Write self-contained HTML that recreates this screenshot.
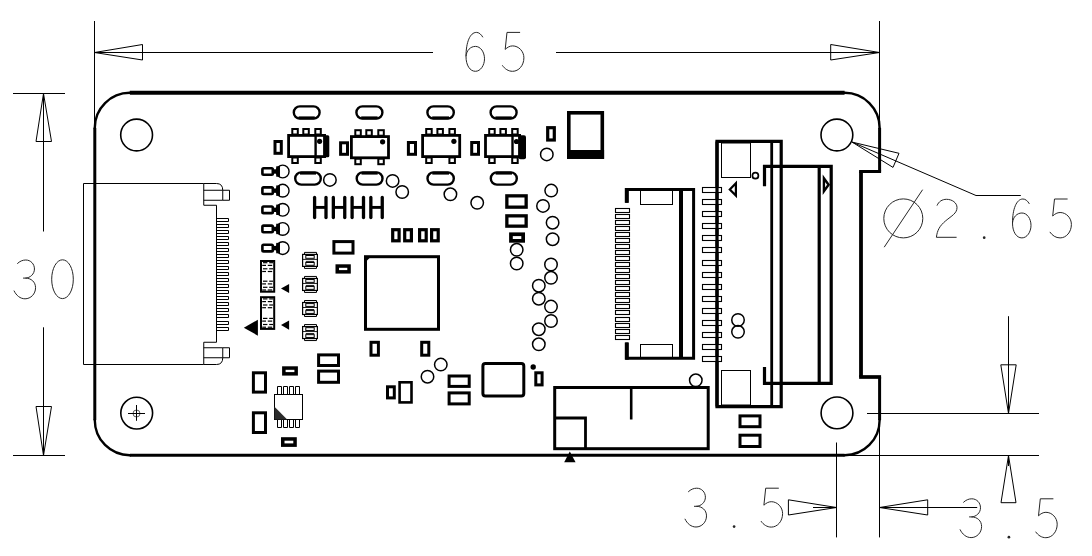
<!DOCTYPE html>
<html><head><meta charset="utf-8"><title>PCB outline drawing</title>
<style>
html,body{margin:0;padding:0;background:#fff;}
body{width:1092px;height:556px;overflow:hidden;font-family:"Liberation Sans",sans-serif;}
svg{display:block;}
</style></head><body>
<svg width="1092" height="556" viewBox="0 0 1092 556">
<rect width="1092" height="556" fill="#fff"/>
<path d="M129.8,92.8 L844.6,92.8" fill="none" stroke="#000" stroke-width="4" />
<path d="M129.8,455.2 L844.6,455.2" fill="none" stroke="#000" stroke-width="3" />
<path d="M94.8,127.8 L94.8,420.2" fill="none" stroke="#000" stroke-width="3" />
<path d="M879.6,127.8 L879.6,171.5" fill="none" stroke="#000" stroke-width="3" />
<path d="M881.1,171.5 L859.1,171.5" fill="none" stroke="#000" stroke-width="3" />
<path d="M861.0,171.5 L861.0,377.0" fill="none" stroke="#000" stroke-width="3.8" />
<path d="M859.1,377.0 L881.1,377.0" fill="none" stroke="#000" stroke-width="3.7" />
<path d="M879.6,377.0 L879.6,420.2" fill="none" stroke="#000" stroke-width="3" />
<path d="M94.8,128.8 L94.8,127.8 A35,35 0 0 1 129.8,92.8 L130.8,92.8" fill="none" stroke="#000" stroke-width="2.4" />
<path d="M843.6,92.8 L844.6,92.8 A35,35 0 0 1 879.6,127.8 L879.6,128.8" fill="none" stroke="#000" stroke-width="2.4" />
<path d="M94.8,419.2 L94.8,420.2 A35,35 0 0 0 129.8,455.2 L130.8,455.2" fill="none" stroke="#000" stroke-width="2.4" />
<path d="M843.6,455.2 L844.6,455.2 A35,35 0 0 0 879.6,420.2 L879.6,419.2" fill="none" stroke="#000" stroke-width="2.4" />
<circle cx="136.60" cy="135.00" r="15.90" fill="none" stroke="#000" stroke-width="1.6"/>
<circle cx="836.90" cy="135.00" r="15.90" fill="none" stroke="#000" stroke-width="1.6"/>
<circle cx="837.00" cy="412.90" r="15.90" fill="none" stroke="#000" stroke-width="1.6"/>
<circle cx="136.70" cy="413.10" r="15.90" fill="none" stroke="#000" stroke-width="1.6"/>
<circle cx="136.5" cy="413.5" r="3.5" fill="none" stroke="#333" stroke-width="0.8"/>
<line x1="128.00" y1="413.50" x2="145.00" y2="413.50" stroke="#000" stroke-width="1" stroke-linecap="butt"/>
<line x1="136.50" y1="405.00" x2="136.50" y2="420.80" stroke="#000" stroke-width="1" stroke-linecap="butt"/>
<line x1="94.50" y1="21.00" x2="94.50" y2="127.80" stroke="#000" stroke-width="1" stroke-linecap="butt"/>
<line x1="879.50" y1="21.00" x2="879.50" y2="127.80" stroke="#000" stroke-width="1" stroke-linecap="butt"/>
<line x1="94.50" y1="52.50" x2="433.00" y2="52.50" stroke="#000" stroke-width="1" stroke-linecap="butt"/>
<line x1="556.00" y1="52.50" x2="879.50" y2="52.50" stroke="#000" stroke-width="1" stroke-linecap="butt"/>
<path d="M94.5,52.5 L142.5,44.5 L142.5,60 Z" fill="none" stroke="#000" stroke-width="1" />
<path d="M879.5,52.5 L830.7,44.5 L830.7,60 Z" fill="none" stroke="#000" stroke-width="1" />
<line x1="13.00" y1="93.50" x2="65.00" y2="93.50" stroke="#000" stroke-width="1" stroke-linecap="butt"/>
<line x1="13.00" y1="455.50" x2="65.00" y2="455.50" stroke="#000" stroke-width="1" stroke-linecap="butt"/>
<line x1="43.50" y1="93.50" x2="43.50" y2="231.50" stroke="#000" stroke-width="1" stroke-linecap="butt"/>
<line x1="43.50" y1="327.30" x2="43.50" y2="455.50" stroke="#000" stroke-width="1" stroke-linecap="butt"/>
<path d="M43.5,93.5 L36,141.5 L51.5,141.5 Z" fill="none" stroke="#000" stroke-width="1" />
<path d="M43.5,455.5 L36,406.5 L51.5,406.5 Z" fill="none" stroke="#000" stroke-width="1" />
<line x1="867.00" y1="413.50" x2="1039.00" y2="413.50" stroke="#000" stroke-width="1" stroke-linecap="butt"/>
<line x1="844.60" y1="455.50" x2="1039.00" y2="455.50" stroke="#000" stroke-width="1" stroke-linecap="butt"/>
<line x1="1008.50" y1="316.20" x2="1008.50" y2="413.50" stroke="#000" stroke-width="1" stroke-linecap="butt"/>
<path d="M1008.5,413.5 L1000.8,364.8 L1016.2,364.8 Z" fill="none" stroke="#000" stroke-width="1" />
<line x1="1008.50" y1="455.50" x2="1008.50" y2="466.00" stroke="#000" stroke-width="1" stroke-linecap="butt"/>
<path d="M1008.5,455.5 L1001,502.7 L1016,502.7 Z" fill="none" stroke="#000" stroke-width="1" />
<line x1="836.50" y1="442.50" x2="836.50" y2="537.40" stroke="#000" stroke-width="1" stroke-linecap="butt"/>
<line x1="879.50" y1="420.20" x2="879.50" y2="537.40" stroke="#000" stroke-width="1" stroke-linecap="butt"/>
<line x1="813.00" y1="507.50" x2="836.50" y2="507.50" stroke="#000" stroke-width="1" stroke-linecap="butt"/>
<path d="M836.5,507.5 L788.4,499.8 L788.4,515 Z" fill="none" stroke="#000" stroke-width="1" />
<line x1="879.50" y1="507.50" x2="977.20" y2="507.50" stroke="#000" stroke-width="1" stroke-linecap="butt"/>
<path d="M879.5,507.5 L927.7,499.8 L927.7,515 Z" fill="none" stroke="#000" stroke-width="1" />
<path d="M852.1,142.1 L976,195.5 L1020.8,195.5" fill="none" stroke="#000" stroke-width="1" />
<path d="M852.1,142.1 L899,153.3 L893,167.4 Z" fill="none" stroke="#000" stroke-width="1" />
<path transform="translate(466.00,32.40)" d="M16.9,4.9 C15,1.8 13,0 10.4,0 C4,0 0,10 0,24 C0,33 4,38.9 9.4,38.9 C14.5,38.9 18.5,33 18.5,26.4 C18.5,19.5 14.5,14 9.4,14 C4.5,14 0.5,18 0,24" fill="none" stroke="#262626" stroke-width="1.0"/>
<path transform="translate(502.30,32.40)" d="M17.8,0 L4.7,0 L2.9,17 C5,15 7.5,13.5 10.3,13.5 C16.5,13.5 21.6,19 21.6,25.4 C21.6,33 16.5,38.9 10.3,38.9 C6,38.9 2.5,36.5 0,32.9" fill="none" stroke="#262626" stroke-width="1.0"/>
<path transform="translate(13.75,260.00)" d="M3.5,3.7 C6,1.2 9,0 12,0 C17,0 20.7,4 20.7,9 C20.7,14 16.5,18 11.5,18.1 L9.3,18.1 M11.5,18.1 C17.5,18.1 21.8,22 21.8,27.7 C21.8,34 17,38.8 11.3,38.8 C6.5,38.8 2.5,35.5 0.2,30.6" fill="none" stroke="#262626" stroke-width="1.0"/>
<path transform="translate(51.70,259.80)" d="M10.8,0 C4.8,0 0,8.7 0,19.4 C0,30.1 4.8,38.8 10.8,38.8 C16.8,38.8 21.6,30.1 21.6,19.4 C21.6,8.7 16.8,0 10.8,0 Z" fill="none" stroke="#262626" stroke-width="1.0"/>
<circle cx="903.3" cy="218.4" r="19.5" fill="none" stroke="#262626" stroke-width="1.0"/>
<line x1="884.20" y1="247.20" x2="922.60" y2="189.70" stroke="#262626" stroke-width="1.0" stroke-linecap="butt"/>
<path transform="translate(935.70,199.30)" d="M1.3,6.3 C3,2.2 6.5,0 10.8,0 C16.5,0 21.3,3.5 21.3,8.3 C21.3,14 16,16.5 10,21.5 C4,26.5 1.5,31 0.7,38 L20.9,38" fill="none" stroke="#262626" stroke-width="1.0"/>
<circle cx="984.20" cy="237.70" r="1.35" fill="#262626"/>
<path transform="translate(1012.50,199.00)" d="M16.9,4.9 C15,1.8 13,0 10.4,0 C4,0 0,10 0,24 C0,33 4,38.9 9.4,38.9 C14.5,38.9 18.5,33 18.5,26.4 C18.5,19.5 14.5,14 9.4,14 C4.5,14 0.5,18 0,24" fill="none" stroke="#262626" stroke-width="1.0"/>
<path transform="translate(1049.80,199.00)" d="M17.8,0 L4.7,0 L2.9,17 C5,15 7.5,13.5 10.3,13.5 C16.5,13.5 21.6,19 21.6,25.4 C21.6,33 16.5,38.9 10.3,38.9 C6,38.9 2.5,36.5 0,32.9" fill="none" stroke="#262626" stroke-width="1.0"/>
<path transform="translate(684.70,488.20)" d="M3.5,3.7 C6,1.2 9,0 12,0 C17,0 20.7,4 20.7,9 C20.7,14 16.5,18 11.5,18.1 L9.3,18.1 M11.5,18.1 C17.5,18.1 21.8,22 21.8,27.7 C21.8,34 17,38.8 11.3,38.8 C6.5,38.8 2.5,35.5 0.2,30.6" fill="none" stroke="#262626" stroke-width="1.0"/>
<circle cx="734.10" cy="526.60" r="1.35" fill="#262626"/>
<path transform="translate(761.00,488.20)" d="M17.8,0 L4.7,0 L2.9,17 C5,15 7.5,13.5 10.3,13.5 C16.5,13.5 21.6,19 21.6,25.4 C21.6,33 16.5,38.9 10.3,38.9 C6,38.9 2.5,36.5 0,32.9" fill="none" stroke="#262626" stroke-width="1.0"/>
<path transform="translate(959.80,498.80)" d="M3.5,3.7 C6,1.2 9,0 12,0 C17,0 20.7,4 20.7,9 C20.7,14 16.5,18 11.5,18.1 L9.3,18.1 M11.5,18.1 C17.5,18.1 21.8,22 21.8,27.7 C21.8,34 17,38.8 11.3,38.8 C6.5,38.8 2.5,35.5 0.2,30.6" fill="none" stroke="#262626" stroke-width="1.0"/>
<circle cx="1008.90" cy="537.20" r="1.35" fill="#262626"/>
<path transform="translate(1035.60,498.80)" d="M17.8,0 L4.7,0 L2.9,17 C5,15 7.5,13.5 10.3,13.5 C16.5,13.5 21.6,19 21.6,25.4 C21.6,33 16.5,38.9 10.3,38.9 C6,38.9 2.5,36.5 0,32.9" fill="none" stroke="#262626" stroke-width="1.0"/>
<path d="M203.75,183.5 L83.5,183.5 L83.5,364.5 L203.75,364.5" fill="none" stroke="#000" stroke-width="1" />
<path d="M203.75,183.5 L216.5,183.5 Q222.75,183.5 222.75,190.25" fill="none" stroke="#000" stroke-width="1" />
<path d="M203.75,183.5 L203.75,205.25 L216.5,205.25 L216.5,342.25 L203.75,342.25 L203.75,364.5" fill="none" stroke="#000" stroke-width="1" />
<path d="M203.75,190.25 L222.75,190.25 L222.75,200.25 L203.75,200.25" fill="none" stroke="#000" stroke-width="1" />
<path d="M222.75,190.25 L229.5,190.25 L229.5,200.25 L222.75,200.25" fill="none" stroke="#000" stroke-width="1" />
<path d="M203.75,364.5 L216.5,364.5 Q222.75,364.5 222.75,357.75" fill="none" stroke="#000" stroke-width="1" />
<path d="M203.75,347.75 L222.75,347.75 L222.75,357.75 L203.75,357.75" fill="none" stroke="#000" stroke-width="1" />
<path d="M222.75,347.75 L229.5,347.75 L229.5,357.75 L222.75,357.75" fill="none" stroke="#000" stroke-width="1" />
<path d="M216.5,218.50 L228.5,218.50 L228.5,221.50 L216.5,221.50" fill="none" stroke="#000" stroke-width="1" />
<path d="M216.5,224.50 L228.5,224.50 L228.5,227.50 L216.5,227.50" fill="none" stroke="#000" stroke-width="1" />
<path d="M216.5,230.50 L228.5,230.50 L228.5,233.50 L216.5,233.50" fill="none" stroke="#000" stroke-width="1" />
<path d="M216.5,236.50 L228.5,236.50 L228.5,239.50 L216.5,239.50" fill="none" stroke="#000" stroke-width="1" />
<path d="M216.5,242.50 L228.5,242.50 L228.5,245.50 L216.5,245.50" fill="none" stroke="#000" stroke-width="1" />
<path d="M216.5,248.50 L228.5,248.50 L228.5,251.50 L216.5,251.50" fill="none" stroke="#000" stroke-width="1" />
<path d="M216.5,254.50 L228.5,254.50 L228.5,257.50 L216.5,257.50" fill="none" stroke="#000" stroke-width="1" />
<path d="M216.5,260.50 L228.5,260.50 L228.5,263.50 L216.5,263.50" fill="none" stroke="#000" stroke-width="1" />
<path d="M216.5,266.50 L228.5,266.50 L228.5,269.50 L216.5,269.50" fill="none" stroke="#000" stroke-width="1" />
<path d="M216.5,272.50 L228.5,272.50 L228.5,275.50 L216.5,275.50" fill="none" stroke="#000" stroke-width="1" />
<path d="M216.5,278.50 L228.5,278.50 L228.5,281.50 L216.5,281.50" fill="none" stroke="#000" stroke-width="1" />
<path d="M216.5,284.50 L228.5,284.50 L228.5,287.50 L216.5,287.50" fill="none" stroke="#000" stroke-width="1" />
<path d="M216.5,290.50 L228.5,290.50 L228.5,293.50 L216.5,293.50" fill="none" stroke="#000" stroke-width="1" />
<path d="M216.5,296.50 L228.5,296.50 L228.5,299.50 L216.5,299.50" fill="none" stroke="#000" stroke-width="1" />
<path d="M216.5,302.50 L228.5,302.50 L228.5,305.50 L216.5,305.50" fill="none" stroke="#000" stroke-width="1" />
<path d="M216.5,308.50 L228.5,308.50 L228.5,311.50 L216.5,311.50" fill="none" stroke="#000" stroke-width="1" />
<path d="M216.5,314.50 L228.5,314.50 L228.5,317.50 L216.5,317.50" fill="none" stroke="#000" stroke-width="1" />
<path d="M216.5,321.50 L228.5,321.50 L228.5,324.50 L216.5,324.50" fill="none" stroke="#000" stroke-width="1" />
<path d="M216.5,327.50 L228.5,327.50 L228.5,330.50 L216.5,330.50" fill="none" stroke="#000" stroke-width="1" />
<rect x="293.80" y="106.40" width="25.80" height="12.20" rx="6.10" fill="none" stroke="#000" stroke-width="2.4"/>
<line x1="298.60" y1="117.80" x2="314.80" y2="117.80" stroke="#000" stroke-width="2.8" stroke-linecap="butt"/>
<rect x="356.40" y="106.40" width="26.00" height="12.20" rx="6.10" fill="none" stroke="#000" stroke-width="2.4"/>
<line x1="361.20" y1="117.80" x2="377.60" y2="117.80" stroke="#000" stroke-width="2.8" stroke-linecap="butt"/>
<rect x="427.40" y="106.40" width="26.40" height="12.20" rx="6.10" fill="none" stroke="#000" stroke-width="2.4"/>
<line x1="432.20" y1="117.80" x2="449.00" y2="117.80" stroke="#000" stroke-width="2.8" stroke-linecap="butt"/>
<rect x="490.60" y="106.40" width="26.00" height="12.20" rx="6.10" fill="none" stroke="#000" stroke-width="2.4"/>
<line x1="495.40" y1="117.80" x2="511.80" y2="117.80" stroke="#000" stroke-width="2.8" stroke-linecap="butt"/>
<rect x="295.20" y="172.40" width="25.60" height="12.20" rx="6.10" fill="none" stroke="#000" stroke-width="2.4"/>
<line x1="300.00" y1="173.20" x2="316.00" y2="173.20" stroke="#000" stroke-width="2.8" stroke-linecap="butt"/>
<rect x="356.70" y="172.40" width="25.80" height="12.20" rx="6.10" fill="none" stroke="#000" stroke-width="2.4"/>
<line x1="361.50" y1="173.20" x2="377.70" y2="173.20" stroke="#000" stroke-width="2.8" stroke-linecap="butt"/>
<rect x="427.50" y="172.40" width="26.30" height="12.20" rx="6.10" fill="none" stroke="#000" stroke-width="2.4"/>
<line x1="432.30" y1="173.20" x2="449.00" y2="173.20" stroke="#000" stroke-width="2.8" stroke-linecap="butt"/>
<rect x="490.80" y="172.40" width="26.00" height="12.20" rx="6.10" fill="none" stroke="#000" stroke-width="2.4"/>
<line x1="495.60" y1="173.20" x2="512.00" y2="173.20" stroke="#000" stroke-width="2.8" stroke-linecap="butt"/>
<rect x="288.60" y="135.40" width="36.00" height="21.20" fill="none" stroke="#000" stroke-width="2.8" />
<rect x="292.30" y="129.00" width="5.50" height="5.50" fill="none" stroke="#000" stroke-width="2" />
<rect x="303.30" y="129.00" width="5.50" height="5.50" fill="none" stroke="#000" stroke-width="2" />
<rect x="315.30" y="129.00" width="5.50" height="5.50" fill="none" stroke="#000" stroke-width="2" />
<rect x="292.30" y="157.50" width="5.50" height="5.50" fill="none" stroke="#000" stroke-width="2" />
<rect x="315.30" y="157.50" width="5.50" height="5.50" fill="none" stroke="#000" stroke-width="2" />
<circle cx="319.6" cy="141.3" r="2.6" fill="#000"/>
<line x1="315.60" y1="134.00" x2="315.60" y2="158.00" stroke="#000" stroke-width="2.4" stroke-linecap="butt"/>
<rect x="323.5" y="135.2" width="5.8" height="22" rx="1.5" fill="#000"/>
<rect x="351.40" y="136.60" width="37.10" height="21.20" fill="none" stroke="#000" stroke-width="2.8" />
<rect x="355.30" y="130.20" width="5.50" height="5.50" fill="none" stroke="#000" stroke-width="2" />
<rect x="366.30" y="130.20" width="5.50" height="5.50" fill="none" stroke="#000" stroke-width="2" />
<rect x="378.30" y="130.20" width="5.50" height="5.50" fill="none" stroke="#000" stroke-width="2" />
<rect x="355.30" y="158.70" width="5.50" height="5.50" fill="none" stroke="#000" stroke-width="2" />
<rect x="378.30" y="158.70" width="5.50" height="5.50" fill="none" stroke="#000" stroke-width="2" />
<circle cx="382.6" cy="141.8" r="2.6" fill="#000"/>
<rect x="422.60" y="135.40" width="37.10" height="21.20" fill="none" stroke="#000" stroke-width="2.8" />
<rect x="426.20" y="129.00" width="5.50" height="5.50" fill="none" stroke="#000" stroke-width="2" />
<rect x="437.40" y="129.00" width="5.50" height="5.50" fill="none" stroke="#000" stroke-width="2" />
<rect x="449.40" y="129.00" width="5.50" height="5.50" fill="none" stroke="#000" stroke-width="2" />
<rect x="426.20" y="157.50" width="5.50" height="5.50" fill="none" stroke="#000" stroke-width="2" />
<rect x="449.40" y="157.50" width="5.50" height="5.50" fill="none" stroke="#000" stroke-width="2" />
<circle cx="453.9" cy="141.3" r="2.6" fill="#000"/>
<rect x="485.50" y="135.40" width="34.10" height="21.20" fill="none" stroke="#000" stroke-width="2.8" />
<rect x="489.20" y="129.00" width="5.50" height="5.50" fill="none" stroke="#000" stroke-width="2" />
<rect x="500.40" y="129.00" width="5.50" height="5.50" fill="none" stroke="#000" stroke-width="2" />
<rect x="512.20" y="129.00" width="5.50" height="5.50" fill="none" stroke="#000" stroke-width="2" />
<rect x="489.20" y="157.50" width="5.50" height="5.50" fill="none" stroke="#000" stroke-width="2" />
<rect x="512.20" y="157.50" width="5.50" height="5.50" fill="none" stroke="#000" stroke-width="2" />
<circle cx="516.5" cy="141.5" r="2.6" fill="#000"/>
<line x1="512.50" y1="134.00" x2="512.50" y2="158.00" stroke="#000" stroke-width="2.4" stroke-linecap="butt"/>
<rect x="518.5" y="135.2" width="7.5" height="24" rx="2" fill="#000"/>
<rect x="275.00" y="141.50" width="6.30" height="11.80" fill="none" stroke="#000" stroke-width="3" />
<rect x="340.60" y="142.80" width="6.90" height="11.50" fill="none" stroke="#000" stroke-width="3" />
<rect x="408.40" y="142.50" width="7.10" height="11.80" fill="none" stroke="#000" stroke-width="3" />
<rect x="471.70" y="142.50" width="6.80" height="11.80" fill="none" stroke="#000" stroke-width="3" />
<rect x="568.80" y="112.80" width="33.50" height="44.30" fill="none" stroke="#000" stroke-width="3.6" />
<rect x="567" y="150" width="37.1" height="8.9" fill="#000"/>
<rect x="547.70" y="127.70" width="6.60" height="12.30" fill="none" stroke="#000" stroke-width="3.2" />
<circle cx="546.80" cy="154.40" r="6.25" fill="none" stroke="#000" stroke-width="1.5"/>
<circle cx="329.90" cy="179.90" r="6.25" fill="none" stroke="#000" stroke-width="1.5"/>
<circle cx="392.60" cy="180.90" r="6.25" fill="none" stroke="#000" stroke-width="1.5"/>
<circle cx="402.20" cy="192.00" r="6.25" fill="none" stroke="#000" stroke-width="1.5"/>
<circle cx="450.40" cy="194.30" r="6.25" fill="none" stroke="#000" stroke-width="1.5"/>
<circle cx="477.20" cy="202.80" r="6.25" fill="none" stroke="#000" stroke-width="1.5"/>
<circle cx="551.20" cy="190.60" r="6.25" fill="none" stroke="#000" stroke-width="1.5"/>
<circle cx="543.00" cy="205.90" r="6.25" fill="none" stroke="#000" stroke-width="1.5"/>
<circle cx="552.60" cy="222.70" r="6.25" fill="none" stroke="#000" stroke-width="1.5"/>
<circle cx="552.60" cy="239.20" r="6.25" fill="none" stroke="#000" stroke-width="1.5"/>
<circle cx="516.70" cy="249.80" r="6.25" fill="none" stroke="#000" stroke-width="1.5"/>
<circle cx="516.70" cy="263.50" r="6.25" fill="none" stroke="#000" stroke-width="1.5"/>
<circle cx="551.00" cy="264.50" r="6.25" fill="none" stroke="#000" stroke-width="1.5"/>
<circle cx="551.00" cy="277.80" r="6.25" fill="none" stroke="#000" stroke-width="1.5"/>
<circle cx="538.80" cy="285.70" r="6.25" fill="none" stroke="#000" stroke-width="1.5"/>
<circle cx="538.80" cy="298.70" r="6.25" fill="none" stroke="#000" stroke-width="1.5"/>
<circle cx="551.00" cy="306.60" r="6.25" fill="none" stroke="#000" stroke-width="1.5"/>
<circle cx="551.00" cy="321.00" r="6.25" fill="none" stroke="#000" stroke-width="1.5"/>
<circle cx="538.80" cy="329.20" r="6.25" fill="none" stroke="#000" stroke-width="1.5"/>
<circle cx="538.80" cy="344.30" r="6.25" fill="none" stroke="#000" stroke-width="1.5"/>
<circle cx="440.80" cy="364.60" r="6.25" fill="none" stroke="#000" stroke-width="1.5"/>
<circle cx="427.50" cy="376.70" r="6.25" fill="none" stroke="#000" stroke-width="1.5"/>
<circle cx="738.00" cy="320.00" r="6.25" fill="none" stroke="#000" stroke-width="1.5"/>
<circle cx="738.00" cy="331.80" r="6.25" fill="none" stroke="#000" stroke-width="1.5"/>
<circle cx="695.80" cy="380.30" r="6.25" fill="none" stroke="#000" stroke-width="1.5"/>
<rect x="262.4" y="168.20" width="10.4" height="6.6" rx="1.2" fill="none" stroke="#000" stroke-width="2.6"/>
<rect x="273.5" y="169.30" width="3.2" height="4.4" fill="#000"/>
<circle cx="282.7" cy="171.50" r="6.35" fill="#fff" stroke="#000" stroke-width="1.4"/>
<path d="M279.9,165.80 A6.35,6.35 0 0 0 279.9,177.20 Z" fill="#000"/>
<rect x="276.2" y="166.30" width="3.7" height="10.4" fill="#000"/>
<rect x="262.4" y="187.35" width="10.4" height="6.6" rx="1.2" fill="none" stroke="#000" stroke-width="2.6"/>
<rect x="273.5" y="188.45" width="3.2" height="4.4" fill="#000"/>
<circle cx="282.7" cy="190.65" r="6.35" fill="#fff" stroke="#000" stroke-width="1.4"/>
<path d="M279.9,184.95 A6.35,6.35 0 0 0 279.9,196.35 Z" fill="#000"/>
<rect x="276.2" y="185.45" width="3.7" height="10.4" fill="#000"/>
<rect x="262.4" y="206.50" width="10.4" height="6.6" rx="1.2" fill="none" stroke="#000" stroke-width="2.6"/>
<rect x="273.5" y="207.60" width="3.2" height="4.4" fill="#000"/>
<circle cx="282.7" cy="209.80" r="6.35" fill="#fff" stroke="#000" stroke-width="1.4"/>
<path d="M279.9,204.10 A6.35,6.35 0 0 0 279.9,215.50 Z" fill="#000"/>
<rect x="276.2" y="204.60" width="3.7" height="10.4" fill="#000"/>
<rect x="262.4" y="225.65" width="10.4" height="6.6" rx="1.2" fill="none" stroke="#000" stroke-width="2.6"/>
<rect x="273.5" y="226.75" width="3.2" height="4.4" fill="#000"/>
<circle cx="282.7" cy="228.95" r="6.35" fill="#fff" stroke="#000" stroke-width="1.4"/>
<path d="M279.9,223.25 A6.35,6.35 0 0 0 279.9,234.65 Z" fill="#000"/>
<rect x="276.2" y="223.75" width="3.7" height="10.4" fill="#000"/>
<rect x="262.4" y="244.80" width="10.4" height="6.6" rx="1.2" fill="none" stroke="#000" stroke-width="2.6"/>
<rect x="273.5" y="245.90" width="3.2" height="4.4" fill="#000"/>
<circle cx="282.7" cy="248.10" r="6.35" fill="#fff" stroke="#000" stroke-width="1.4"/>
<path d="M279.9,242.40 A6.35,6.35 0 0 0 279.9,253.80 Z" fill="#000"/>
<rect x="276.2" y="242.90" width="3.7" height="10.4" fill="#000"/>
<line x1="314.60" y1="197.40" x2="314.60" y2="217.50" stroke="#000" stroke-width="3.3" stroke-linecap="round"/>
<line x1="326.00" y1="197.40" x2="326.00" y2="217.50" stroke="#000" stroke-width="3.3" stroke-linecap="round"/>
<line x1="314.60" y1="207.40" x2="326.00" y2="207.40" stroke="#000" stroke-width="2.9" stroke-linecap="butt"/>
<line x1="333.35" y1="197.40" x2="333.35" y2="217.50" stroke="#000" stroke-width="3.3" stroke-linecap="round"/>
<line x1="344.75" y1="197.40" x2="344.75" y2="217.50" stroke="#000" stroke-width="3.3" stroke-linecap="round"/>
<line x1="333.35" y1="207.40" x2="344.75" y2="207.40" stroke="#000" stroke-width="2.9" stroke-linecap="butt"/>
<line x1="352.10" y1="197.40" x2="352.10" y2="217.50" stroke="#000" stroke-width="3.3" stroke-linecap="round"/>
<line x1="363.50" y1="197.40" x2="363.50" y2="217.50" stroke="#000" stroke-width="3.3" stroke-linecap="round"/>
<line x1="352.10" y1="207.40" x2="363.50" y2="207.40" stroke="#000" stroke-width="2.9" stroke-linecap="butt"/>
<line x1="370.85" y1="197.40" x2="370.85" y2="217.50" stroke="#000" stroke-width="3.3" stroke-linecap="round"/>
<line x1="382.25" y1="197.40" x2="382.25" y2="217.50" stroke="#000" stroke-width="3.3" stroke-linecap="round"/>
<line x1="370.85" y1="207.40" x2="382.25" y2="207.40" stroke="#000" stroke-width="2.9" stroke-linecap="butt"/>
<rect x="506.85" y="195.85" width="19.30" height="11.30" fill="none" stroke="#000" stroke-width="3.3" />
<rect x="506.85" y="215.85" width="19.30" height="10.30" fill="none" stroke="#000" stroke-width="3.3" />
<rect x="510.95" y="234.25" width="12.20" height="6.60" fill="none" stroke="#000" stroke-width="3.7" />
<rect x="392.70" y="229.70" width="6.40" height="11.10" fill="none" stroke="#000" stroke-width="3.2" />
<rect x="404.70" y="229.70" width="6.70" height="11.10" fill="none" stroke="#000" stroke-width="3.2" />
<rect x="419.60" y="229.70" width="6.60" height="11.10" fill="none" stroke="#000" stroke-width="3.2" />
<rect x="431.60" y="229.70" width="6.60" height="11.10" fill="none" stroke="#000" stroke-width="3.2" />
<rect x="333.90" y="241.60" width="19.10" height="11.50" fill="none" stroke="#000" stroke-width="3" />
<rect x="337.25" y="266.05" width="11.80" height="5.80" fill="none" stroke="#000" stroke-width="3.5" />
<rect x="371.00" y="342.30" width="7.40" height="12.90" fill="none" stroke="#000" stroke-width="3" />
<rect x="421.70" y="342.30" width="7.10" height="12.90" fill="none" stroke="#000" stroke-width="3" />
<rect x="253.40" y="372.80" width="12.10" height="19.30" fill="none" stroke="#000" stroke-width="3" />
<rect x="253.40" y="412.80" width="12.10" height="19.70" fill="none" stroke="#000" stroke-width="3" />
<rect x="283.85" y="368.05" width="12.30" height="5.80" fill="none" stroke="#000" stroke-width="3.5" />
<rect x="282.75" y="438.95" width="12.30" height="6.20" fill="none" stroke="#000" stroke-width="3.5" />
<rect x="318.60" y="354.90" width="19.90" height="10.60" fill="none" stroke="#000" stroke-width="3" />
<rect x="318.60" y="371.10" width="19.90" height="11.20" fill="none" stroke="#000" stroke-width="3" />
<rect x="387.50" y="386.80" width="6.80" height="11.10" fill="none" stroke="#000" stroke-width="3" />
<rect x="399.60" y="382.30" width="11.90" height="20.10" fill="none" stroke="#000" stroke-width="2.6" />
<rect x="449.10" y="376.00" width="20.10" height="10.40" fill="none" stroke="#000" stroke-width="3" />
<rect x="449.10" y="392.90" width="20.10" height="11.00" fill="none" stroke="#000" stroke-width="3" />
<rect x="535.80" y="372.80" width="6.30" height="12.10" fill="none" stroke="#000" stroke-width="3" />
<rect x="740.00" y="415.90" width="20.00" height="10.80" fill="none" stroke="#000" stroke-width="3" />
<rect x="740.00" y="435.20" width="20.00" height="11.30" fill="none" stroke="#000" stroke-width="3" />
<rect x="482.90" y="363.50" width="40.90" height="32.60" fill="none" stroke="#000" stroke-width="3" rx="2.5"/>
<circle cx="533.2" cy="367" r="2.7" fill="#000"/>
<rect x="365.50" y="256.70" width="73.00" height="72.60" fill="none" stroke="#000" stroke-width="3" />
<path d="M365.4,256.6 L371,256.6 L365.4,262.2 Z" fill="#000" stroke="#000" stroke-width="0" />
<rect x="261.00" y="261.00" width="13.20" height="30.70" fill="none" stroke="#000" stroke-width="2.0" />
<line x1="263.00" y1="262.70" x2="267.40" y2="262.70" stroke="#000" stroke-width="1.2" stroke-linecap="butt"/>
<line x1="269.20" y1="262.70" x2="273.00" y2="262.70" stroke="#000" stroke-width="1.2" stroke-linecap="butt"/>
<line x1="262.20" y1="265.40" x2="266.00" y2="265.40" stroke="#000" stroke-width="1.2" stroke-linecap="butt"/>
<line x1="267.80" y1="265.40" x2="272.20" y2="265.40" stroke="#000" stroke-width="1.2" stroke-linecap="butt"/>
<line x1="263.00" y1="268.80" x2="267.40" y2="268.80" stroke="#000" stroke-width="1.2" stroke-linecap="butt"/>
<line x1="269.20" y1="268.80" x2="273.00" y2="268.80" stroke="#000" stroke-width="1.2" stroke-linecap="butt"/>
<line x1="262.20" y1="271.50" x2="266.00" y2="271.50" stroke="#000" stroke-width="1.2" stroke-linecap="butt"/>
<line x1="267.80" y1="271.50" x2="272.20" y2="271.50" stroke="#000" stroke-width="1.2" stroke-linecap="butt"/>
<line x1="263.00" y1="281.20" x2="267.40" y2="281.20" stroke="#000" stroke-width="1.2" stroke-linecap="butt"/>
<line x1="269.20" y1="281.20" x2="273.00" y2="281.20" stroke="#000" stroke-width="1.2" stroke-linecap="butt"/>
<line x1="262.20" y1="283.90" x2="266.00" y2="283.90" stroke="#000" stroke-width="1.2" stroke-linecap="butt"/>
<line x1="267.80" y1="283.90" x2="272.20" y2="283.90" stroke="#000" stroke-width="1.2" stroke-linecap="butt"/>
<line x1="263.00" y1="287.30" x2="267.40" y2="287.30" stroke="#000" stroke-width="1.2" stroke-linecap="butt"/>
<line x1="269.20" y1="287.30" x2="273.00" y2="287.30" stroke="#000" stroke-width="1.2" stroke-linecap="butt"/>
<line x1="262.20" y1="290.00" x2="266.00" y2="290.00" stroke="#000" stroke-width="1.2" stroke-linecap="butt"/>
<line x1="267.80" y1="290.00" x2="272.20" y2="290.00" stroke="#000" stroke-width="1.2" stroke-linecap="butt"/>
<rect x="261.00" y="297.20" width="13.20" height="31.70" fill="none" stroke="#000" stroke-width="2.0" />
<line x1="263.00" y1="298.90" x2="267.40" y2="298.90" stroke="#000" stroke-width="1.2" stroke-linecap="butt"/>
<line x1="269.20" y1="298.90" x2="273.00" y2="298.90" stroke="#000" stroke-width="1.2" stroke-linecap="butt"/>
<line x1="262.20" y1="301.60" x2="266.00" y2="301.60" stroke="#000" stroke-width="1.2" stroke-linecap="butt"/>
<line x1="267.80" y1="301.60" x2="272.20" y2="301.60" stroke="#000" stroke-width="1.2" stroke-linecap="butt"/>
<line x1="263.00" y1="305.00" x2="267.40" y2="305.00" stroke="#000" stroke-width="1.2" stroke-linecap="butt"/>
<line x1="269.20" y1="305.00" x2="273.00" y2="305.00" stroke="#000" stroke-width="1.2" stroke-linecap="butt"/>
<line x1="262.20" y1="307.70" x2="266.00" y2="307.70" stroke="#000" stroke-width="1.2" stroke-linecap="butt"/>
<line x1="267.80" y1="307.70" x2="272.20" y2="307.70" stroke="#000" stroke-width="1.2" stroke-linecap="butt"/>
<line x1="263.00" y1="318.40" x2="267.40" y2="318.40" stroke="#000" stroke-width="1.2" stroke-linecap="butt"/>
<line x1="269.20" y1="318.40" x2="273.00" y2="318.40" stroke="#000" stroke-width="1.2" stroke-linecap="butt"/>
<line x1="262.20" y1="321.10" x2="266.00" y2="321.10" stroke="#000" stroke-width="1.2" stroke-linecap="butt"/>
<line x1="267.80" y1="321.10" x2="272.20" y2="321.10" stroke="#000" stroke-width="1.2" stroke-linecap="butt"/>
<line x1="263.00" y1="324.50" x2="267.40" y2="324.50" stroke="#000" stroke-width="1.2" stroke-linecap="butt"/>
<line x1="269.20" y1="324.50" x2="273.00" y2="324.50" stroke="#000" stroke-width="1.2" stroke-linecap="butt"/>
<line x1="262.20" y1="327.20" x2="266.00" y2="327.20" stroke="#000" stroke-width="1.2" stroke-linecap="butt"/>
<line x1="267.80" y1="327.20" x2="272.20" y2="327.20" stroke="#000" stroke-width="1.2" stroke-linecap="butt"/>
<path d="M281,288.5 L289.1,283.9 L289.1,293.1 Z" fill="#000" stroke="#000" stroke-width="0" />
<path d="M281,325.1 L289.1,320.5 L289.1,329.7 Z" fill="#000" stroke="#000" stroke-width="0" />
<path d="M243.8,327.7 L257.9,319.7 L257.9,335.7 Z" fill="#000" stroke="#000" stroke-width="0" />
<path d="M304.5,254.00 L304.5,252.40 L316.5,252.40 L316.5,254.00" fill="none" stroke="#000" stroke-width="1.0" />
<path d="M304.5,266.80 L304.5,268.40 L316.5,268.40 L316.5,266.80" fill="none" stroke="#000" stroke-width="1.0" />
<rect x="302.6" y="254.40" width="14.8" height="12" fill="none" stroke="#000" stroke-width="1.2"/>
<rect x="305.8" y="255.50" width="8.4" height="2.8" fill="none" stroke="#000" stroke-width="1.0"/>
<rect x="305.8" y="262.50" width="8.4" height="2.8" fill="none" stroke="#000" stroke-width="1.0"/>
<line x1="303.00" y1="259.40" x2="317.00" y2="259.40" stroke="#000" stroke-width="0.9" stroke-linecap="butt"/>
<line x1="305.80" y1="261.40" x2="314.20" y2="261.40" stroke="#000" stroke-width="0.9" stroke-linecap="butt"/>
<path d="M304.5,278.05 L304.5,276.45 L316.5,276.45 L316.5,278.05" fill="none" stroke="#000" stroke-width="1.0" />
<path d="M304.5,290.85 L304.5,292.45 L316.5,292.45 L316.5,290.85" fill="none" stroke="#000" stroke-width="1.0" />
<rect x="302.6" y="278.45" width="14.8" height="12" fill="none" stroke="#000" stroke-width="1.2"/>
<rect x="305.8" y="279.55" width="8.4" height="2.8" fill="none" stroke="#000" stroke-width="1.0"/>
<rect x="305.8" y="286.55" width="8.4" height="2.8" fill="none" stroke="#000" stroke-width="1.0"/>
<line x1="303.00" y1="283.45" x2="317.00" y2="283.45" stroke="#000" stroke-width="0.9" stroke-linecap="butt"/>
<line x1="305.80" y1="285.45" x2="314.20" y2="285.45" stroke="#000" stroke-width="0.9" stroke-linecap="butt"/>
<path d="M304.5,302.10 L304.5,300.50 L316.5,300.50 L316.5,302.10" fill="none" stroke="#000" stroke-width="1.0" />
<path d="M304.5,314.90 L304.5,316.50 L316.5,316.50 L316.5,314.90" fill="none" stroke="#000" stroke-width="1.0" />
<rect x="302.6" y="302.50" width="14.8" height="12" fill="none" stroke="#000" stroke-width="1.2"/>
<rect x="305.8" y="303.60" width="8.4" height="2.8" fill="none" stroke="#000" stroke-width="1.0"/>
<rect x="305.8" y="310.60" width="8.4" height="2.8" fill="none" stroke="#000" stroke-width="1.0"/>
<line x1="303.00" y1="307.50" x2="317.00" y2="307.50" stroke="#000" stroke-width="0.9" stroke-linecap="butt"/>
<line x1="305.80" y1="309.50" x2="314.20" y2="309.50" stroke="#000" stroke-width="0.9" stroke-linecap="butt"/>
<path d="M304.5,326.15 L304.5,324.55 L316.5,324.55 L316.5,326.15" fill="none" stroke="#000" stroke-width="1.0" />
<path d="M304.5,338.95 L304.5,340.55 L316.5,340.55 L316.5,338.95" fill="none" stroke="#000" stroke-width="1.0" />
<rect x="302.6" y="326.55" width="14.8" height="12" fill="none" stroke="#000" stroke-width="1.2"/>
<rect x="305.8" y="327.65" width="8.4" height="2.8" fill="none" stroke="#000" stroke-width="1.0"/>
<rect x="305.8" y="334.65" width="8.4" height="2.8" fill="none" stroke="#000" stroke-width="1.0"/>
<line x1="303.00" y1="331.55" x2="317.00" y2="331.55" stroke="#000" stroke-width="0.9" stroke-linecap="butt"/>
<line x1="305.80" y1="333.55" x2="314.20" y2="333.55" stroke="#000" stroke-width="0.9" stroke-linecap="butt"/>
<rect x="274.5" y="394.5" width="28" height="25" fill="none" stroke="#000" stroke-width="1"/>
<path d="M277.50,394.5 L277.50,386.5 L281.50,386.5 L281.50,394.5" fill="none" stroke="#000" stroke-width="1" />
<path d="M277.50,419.5 L277.50,427.5 L281.50,427.5 L281.50,419.5" fill="none" stroke="#000" stroke-width="1" />
<path d="M283.50,394.5 L283.50,386.5 L287.50,386.5 L287.50,394.5" fill="none" stroke="#000" stroke-width="1" />
<path d="M283.50,419.5 L283.50,427.5 L287.50,427.5 L287.50,419.5" fill="none" stroke="#000" stroke-width="1" />
<path d="M289.50,394.5 L289.50,386.5 L293.50,386.5 L293.50,394.5" fill="none" stroke="#000" stroke-width="1" />
<path d="M289.50,419.5 L289.50,427.5 L293.50,427.5 L293.50,419.5" fill="none" stroke="#000" stroke-width="1" />
<path d="M295.50,394.5 L295.50,386.5 L299.50,386.5 L299.50,394.5" fill="none" stroke="#000" stroke-width="1" />
<path d="M295.50,419.5 L295.50,427.5 L299.50,427.5 L299.50,419.5" fill="none" stroke="#000" stroke-width="1" />
<path d="M274.5,406.8 L287.2,419.5 L274.5,419.5 Z" fill="#2b2b2b" stroke="#000" stroke-width="0" />
<path d="M626.8,202.8 L626.8,189.4 L693.6,189.4 L693.6,358.2 L626.8,358.2 L626.8,342.5" fill="none" stroke="#000" stroke-width="3.0" stroke-linejoin="miter"/>
<line x1="626.80" y1="188.00" x2="626.80" y2="202.80" stroke="#000" stroke-width="4" stroke-linecap="butt"/>
<line x1="626.80" y1="342.50" x2="626.80" y2="359.70" stroke="#000" stroke-width="4" stroke-linecap="butt"/>
<line x1="681.00" y1="189.40" x2="681.00" y2="358.20" stroke="#000" stroke-width="4" stroke-linecap="butt"/>
<rect x="640.5" y="190.5" width="32" height="14" fill="none" stroke="#000" stroke-width="1"/>
<rect x="640.5" y="344.5" width="32" height="13" fill="none" stroke="#000" stroke-width="1"/>
<rect x="615.5" y="208.50" width="14" height="4" fill="#fff" stroke="#000" stroke-width="1.1"/>
<rect x="615.5" y="214.50" width="14" height="4" fill="#fff" stroke="#000" stroke-width="1.1"/>
<rect x="615.5" y="220.50" width="14" height="4" fill="#fff" stroke="#000" stroke-width="1.1"/>
<rect x="615.5" y="226.50" width="14" height="4" fill="#fff" stroke="#000" stroke-width="1.1"/>
<rect x="615.5" y="232.50" width="14" height="4" fill="#fff" stroke="#000" stroke-width="1.1"/>
<rect x="615.5" y="238.50" width="14" height="4" fill="#fff" stroke="#000" stroke-width="1.1"/>
<rect x="615.5" y="244.50" width="14" height="4" fill="#fff" stroke="#000" stroke-width="1.1"/>
<rect x="615.5" y="250.50" width="14" height="4" fill="#fff" stroke="#000" stroke-width="1.1"/>
<rect x="615.5" y="256.50" width="14" height="4" fill="#fff" stroke="#000" stroke-width="1.1"/>
<rect x="615.5" y="262.50" width="14" height="4" fill="#fff" stroke="#000" stroke-width="1.1"/>
<rect x="615.5" y="268.50" width="14" height="4" fill="#fff" stroke="#000" stroke-width="1.1"/>
<rect x="615.5" y="274.50" width="14" height="4" fill="#fff" stroke="#000" stroke-width="1.1"/>
<rect x="615.5" y="280.50" width="14" height="4" fill="#fff" stroke="#000" stroke-width="1.1"/>
<rect x="615.5" y="286.50" width="14" height="4" fill="#fff" stroke="#000" stroke-width="1.1"/>
<rect x="615.5" y="292.50" width="14" height="4" fill="#fff" stroke="#000" stroke-width="1.1"/>
<rect x="615.5" y="298.50" width="14" height="4" fill="#fff" stroke="#000" stroke-width="1.1"/>
<rect x="615.5" y="304.50" width="14" height="4" fill="#fff" stroke="#000" stroke-width="1.1"/>
<rect x="615.5" y="310.50" width="14" height="4" fill="#fff" stroke="#000" stroke-width="1.1"/>
<rect x="615.5" y="317.50" width="14" height="4" fill="#fff" stroke="#000" stroke-width="1.1"/>
<rect x="615.5" y="323.50" width="14" height="4" fill="#fff" stroke="#000" stroke-width="1.1"/>
<rect x="615.5" y="329.50" width="14" height="4" fill="#fff" stroke="#000" stroke-width="1.1"/>
<rect x="615.5" y="335.50" width="14" height="4" fill="#fff" stroke="#000" stroke-width="1.1"/>
<path d="M717,141.4 L781.2,141.4 L781.2,406.6 L717,406.6 Z" fill="none" stroke="#000" stroke-width="3.2" />
<line x1="771.70" y1="141.40" x2="771.70" y2="406.60" stroke="#000" stroke-width="2.8" stroke-linecap="butt"/>
<rect x="721.5" y="143" width="29" height="34.5" fill="none" stroke="#000" stroke-width="1"/>
<rect x="721.5" y="370.5" width="29" height="34.5" fill="none" stroke="#000" stroke-width="1"/>
<circle cx="755.40" cy="175.70" r="3.00" fill="none" stroke="#000" stroke-width="1.7"/>
<path d="M729.8,189.4 L735.9,183.2 L735.9,195.6 Z" fill="none" stroke="#000" stroke-width="2.2" stroke-linejoin="miter"/>
<rect x="702.5" y="187.50" width="19" height="5" fill="#fff" stroke="#000" stroke-width="1.1"/>
<rect x="702.5" y="199.50" width="19" height="5" fill="#fff" stroke="#000" stroke-width="1.1"/>
<rect x="702.5" y="211.50" width="19" height="5" fill="#fff" stroke="#000" stroke-width="1.1"/>
<rect x="702.5" y="223.50" width="19" height="5" fill="#fff" stroke="#000" stroke-width="1.1"/>
<rect x="702.5" y="235.50" width="19" height="5" fill="#fff" stroke="#000" stroke-width="1.1"/>
<rect x="702.5" y="247.50" width="19" height="5" fill="#fff" stroke="#000" stroke-width="1.1"/>
<rect x="702.5" y="260.50" width="19" height="5" fill="#fff" stroke="#000" stroke-width="1.1"/>
<rect x="702.5" y="272.50" width="19" height="5" fill="#fff" stroke="#000" stroke-width="1.1"/>
<rect x="702.5" y="284.50" width="19" height="5" fill="#fff" stroke="#000" stroke-width="1.1"/>
<rect x="702.5" y="296.50" width="19" height="5" fill="#fff" stroke="#000" stroke-width="1.1"/>
<rect x="702.5" y="308.50" width="19" height="5" fill="#fff" stroke="#000" stroke-width="1.1"/>
<rect x="702.5" y="320.50" width="19" height="5" fill="#fff" stroke="#000" stroke-width="1.1"/>
<rect x="702.5" y="332.50" width="19" height="5" fill="#fff" stroke="#000" stroke-width="1.1"/>
<rect x="702.5" y="344.50" width="19" height="5" fill="#fff" stroke="#000" stroke-width="1.1"/>
<rect x="702.5" y="356.50" width="19" height="5" fill="#fff" stroke="#000" stroke-width="1.1"/>
<line x1="717.00" y1="141.40" x2="717.00" y2="406.60" stroke="#000" stroke-width="3.2" stroke-linecap="butt"/>
<path d="M764.5,186.2 L764.5,166.4 L831.2,166.4 L831.2,383.4 L764.5,383.4 L764.5,366.9" fill="none" stroke="#000" stroke-width="3.2" />
<line x1="819.20" y1="166.40" x2="819.20" y2="383.40" stroke="#000" stroke-width="3.2" stroke-linecap="butt"/>
<path d="M823.9,178.3 L828.6,184.8 L823.9,191.3 Z" fill="none" stroke="#000" stroke-width="2.4" />
<rect x="554.70" y="387.50" width="153.50" height="61.20" fill="none" stroke="#000" stroke-width="3" />
<line x1="631.20" y1="387.00" x2="631.20" y2="419.50" stroke="#000" stroke-width="2.6" stroke-linecap="butt"/>
<path d="M554,418 L585.5,418 L585.5,449" fill="none" stroke="#000" stroke-width="2.8" />
<path d="M569.8,451.5 L564.2,462.3 L575.6,462.3 Z" fill="#000" stroke="#000" stroke-width="0" />
</svg>
</body></html>
